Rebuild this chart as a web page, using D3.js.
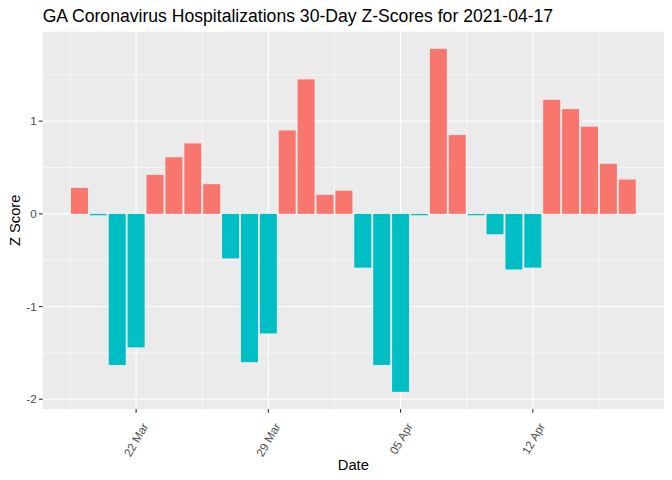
<!DOCTYPE html>
<html><head><meta charset="utf-8">
<script src="https://cdn.jsdelivr.net/npm/d3@7"></script>
<style>body{margin:0;background:#fff;} text{font-family:"Liberation Sans",Arial,sans-serif;}</style>
</head><body><svg id="c" width="672" height="480"></svg>
<script>
const dates = ["2021-03-19","2021-03-20","2021-03-21","2021-03-22","2021-03-23","2021-03-24","2021-03-25","2021-03-26","2021-03-27","2021-03-28","2021-03-29","2021-03-30","2021-03-31","2021-04-01","2021-04-02","2021-04-03","2021-04-04","2021-04-05","2021-04-06","2021-04-07","2021-04-08","2021-04-09","2021-04-10","2021-04-11","2021-04-12","2021-04-13","2021-04-14","2021-04-15","2021-04-16","2021-04-17"];
const zscores = [0.28,-0.015,-1.63,-1.44,0.42,0.61,0.76,0.32,-0.48,-1.60,-1.29,0.90,1.45,0.205,0.25,-0.58,-1.63,-1.92,-0.015,1.78,0.85,-0.015,-0.22,-0.60,-0.58,1.23,1.13,0.94,0.54,0.37];
const xTickDates = ["2021-03-22","2021-03-29","2021-04-05","2021-04-12"];
const xTickLabels = ["22 Mar","29 Mar","05 Apr","12 Apr"];
const yTicks = [-2,-1,0,1];
const title = "GA Coronavirus Hospitalizations 30-Day Z-Scores for 2021-04-17";

const DAY = 864e5;
const parse = s => new Date(s + "T00:00:00Z");
const data = dates.map((d,i)=>({date:parse(d), z:zscores[i]}));

const svg = d3.select("#c");
const L = 42.7, R = 664, T = 31.7, B = 409;

const xmin = d3.min(data,d=>+d.date) - 0.45*DAY, xmax = d3.max(data,d=>+d.date) + 0.45*DAY;
const xpad = (xmax-xmin)*0.05;
const x = d3.scaleUtc().domain([xmin-xpad, xmax+xpad]).range([L,R]);
const ylo = Math.min(0,d3.min(zscores)), yhi = Math.max(0,d3.max(zscores));
const ypad = (yhi-ylo)*0.05;
const y = d3.scaleLinear().domain([ylo-ypad, yhi+ypad]).range([B,T]);

svg.append("rect").attr("x",L).attr("y",T).attr("width",R-L).attr("height",B-T).attr("fill","#EBEBEB");

const xMajor = xTickDates.map(parse);
const xMinor = [];
for (let i=-1;i<xMajor.length;i++){
  const base = i<0 ? +xMajor[0]-7*DAY : +xMajor[i];
  const m = base + 3.5*DAY;
  if (m> x.domain()[0] && m < x.domain()[1]) xMinor.push(new Date(m));
}
const yMinor = [-1.5,-0.5,0.5,1.5];
const g = svg.append("g");
g.selectAll(".ym").data(yMinor).join("line").attr("x1",L).attr("x2",R).attr("y1",d=>y(d)).attr("y2",d=>y(d)).attr("stroke","#fff").attr("stroke-width",0.55);
g.selectAll(".xm").data(xMinor).join("line").attr("y1",T).attr("y2",B).attr("x1",d=>x(d)).attr("x2",d=>x(d)).attr("stroke","#fff").attr("stroke-width",0.55);
g.selectAll(".yM").data(yTicks).join("line").attr("x1",L).attr("x2",R).attr("y1",d=>y(d)).attr("y2",d=>y(d)).attr("stroke","#fff").attr("stroke-width",1.1);
g.selectAll(".xM").data(xMajor).join("line").attr("y1",T).attr("y2",B).attr("x1",d=>x(d)).attr("x2",d=>x(d)).attr("stroke","#fff").attr("stroke-width",1.1);

const bw = x(new Date(0.9*DAY)) - x(new Date(0));
svg.selectAll(".bar").data(data).join("rect")
  .attr("x",d=>x(d.date)-bw/2).attr("width",bw)
  .attr("y",d=>y(Math.max(0,d.z))).attr("height",d=>Math.abs(y(d.z)-y(0)))
  .attr("fill",d=>d.z>0?"#F8766D":"#00BFC4");

const ya = svg.append("g");
ya.selectAll("line").data(yTicks).join("line").attr("x1",L-3.7).attr("x2",L).attr("y1",d=>y(d)).attr("y2",d=>y(d)).attr("stroke","#333").attr("stroke-width",1.1);
ya.selectAll("text").data(yTicks).join("text").attr("x",L-6).attr("y",d=>y(d)).attr("dy","0.35em").attr("text-anchor","end").attr("fill","#4D4D4D").attr("font-size","11.7px").text(d=>d);

const xa = svg.append("g");
xa.selectAll("line").data(xMajor).join("line").attr("y1",B).attr("y2",B+3.7).attr("x1",d=>x(d)).attr("x2",d=>x(d)).attr("stroke","#333").attr("stroke-width",1.1);
xa.selectAll("text").data(xMajor).join("text")
  .attr("transform",d=>`translate(${x(d)+9},${B+15}) rotate(-60)`)
  .attr("dy","0.35em").attr("text-anchor","end").attr("fill","#4D4D4D").attr("font-size","11.7px")
  .text((d,i)=>xTickLabels[i]);

svg.append("text").attr("x",(L+R)/2).attr("y",470).attr("text-anchor","middle").attr("font-size","14.7px").attr("fill","#000").text("Date");
svg.append("text").attr("transform",`translate(20,${(T+B)/2}) rotate(-90)`).attr("text-anchor","middle").attr("font-size","14.7px").attr("fill","#000").text("Z Score");
svg.append("text").attr("x",L).attr("y",22).attr("font-size","17.6px").attr("fill","#000").text(title);
</script></body></html>
